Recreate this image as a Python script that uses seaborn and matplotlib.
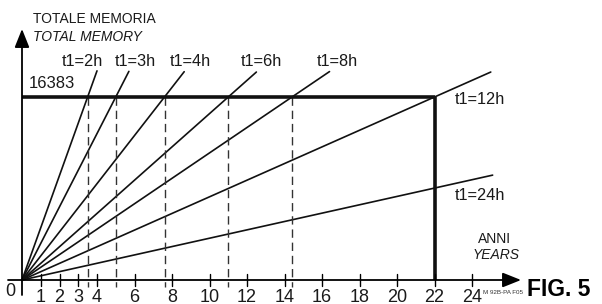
import matplotlib
matplotlib.use("Agg")
import matplotlib.pyplot as plt
import seaborn as sns
import pandas as pd

# data
ray_labels = ["t1=2h", "t1=3h", "t1=4h", "t1=6h", "t1=8h", "t1=12h", "t1=24h"]
fill_years = [3.5, 5.0, 7.6, 11.0, 14.4, 22.0, 43.8]   # years to reach full memory
ray_end_years = [4.0, 5.7, 8.65, 12.5, 16.4, 25.0, 25.1]
total_memory = 16383
tick_years = [1, 2, 3, 4, 6, 8, 10, 12, 14, 16, 18, 20, 22, 24]
limit_year = 22

sns.set_style("white")
plt.rcParams["font.family"] = ["Liberation Sans", "DejaVu Sans"]

# pixel -> data helpers (layout only)
X0, SX = 22, 18.75
Y0, SY = 280, 183 / total_memory
def dx(px):
    return (px - X0) / SX
def dy(py):
    return (Y0 - py) / SY

fig = plt.figure(figsize=(6.02, 3.04), dpi=100)
ax = fig.add_axes([0, 0, 1, 1])
ax.set_xlim(dx(0), dx(602))
ax.set_ylim(dy(304), dy(0))
ax.axis("off")

rows = []
for lab, fy, ey in zip(ray_labels, fill_years, ray_end_years):
    rows.append({"label": lab, "years": 0.0, "memory": 0.0})
    rows.append({"label": lab, "years": ey, "memory": total_memory * ey / fy})
df = pd.DataFrame(rows)
sns.lineplot(data=df, x="years", y="memory", hue="label", estimator=None,
             palette=["#111111"] * len(ray_labels), legend=False, lw=1.2, ax=ax)

# dashed drop lines
for fy in fill_years[:5]:
    ax.plot([fy, fy], [total_memory, dy(287)], color="#333333", lw=1.0,
            dashes=(6, 3.5))

# bold limit lines
ax.plot([0, limit_year], [total_memory, total_memory], color="#111111", lw=2.6,
        solid_capstyle="butt")
ax.plot([limit_year, limit_year], [total_memory, 0], color="#111111", lw=2.6,
        solid_capstyle="butt")

# axes with arrows
arrow = dict(arrowstyle="-|>,head_length=0.75,head_width=0.3", mutation_scale=15,
             lw=1.3, color="black", shrinkA=0, shrinkB=0)
ax.annotate("", xy=(0, dy(29)), xytext=(0, dy(295)), arrowprops=arrow)
ax.annotate("", xy=(dx(521), 0), xytext=(dx(8), 0), arrowprops=arrow)

for t in tick_years:
    ax.plot([t, t], [dy(286), dy(274)], color="black", lw=1.0)
    ax.text(t, dy(297), str(t), ha="center", va="center", fontsize=13,
            color="#1a1a1a")
ax.text(dx(10), dy(291), "0", ha="center", va="center", fontsize=13,
        color="#1a1a1a")

# ray labels
label_pos = [(82, 62), (135, 62), (190, 62), (261, 62), (337, 62), (480, 100), (480, 195)]
for lab, (px, py) in zip(ray_labels, label_pos):
    ax.text(dx(px), dy(py), lab, ha="center", va="center", fontsize=11.8,
            color="#1a1a1a")

ax.text(dx(29), dy(84), str(total_memory), ha="left", va="center", fontsize=12,
        color="#1a1a1a")
ax.text(dx(33), dy(19), "TOTALE MEMORIA", ha="left", va="center", fontsize=10,
        color="#1a1a1a")
ax.text(dx(33), dy(37), "TOTAL MEMORY", ha="left", va="center", fontsize=10,
        style="italic", color="#1a1a1a")
ax.text(dx(495), dy(239), "ANNI", ha="center", va="center", fontsize=10,
        color="#1a1a1a")
ax.text(dx(496), dy(255), "YEARS", ha="center", va="center", fontsize=10,
        style="italic", color="#1a1a1a")
ax.text(dx(483), dy(293), "M 92B-PA F05", ha="left", va="center", fontsize=4.5,
        color="#333333")
ax.text(dx(527), dy(289), "FIG. 5", ha="left", va="center", fontsize=16.5,
        fontweight="bold", color="black")

fig.savefig("out.png", dpi=100)
